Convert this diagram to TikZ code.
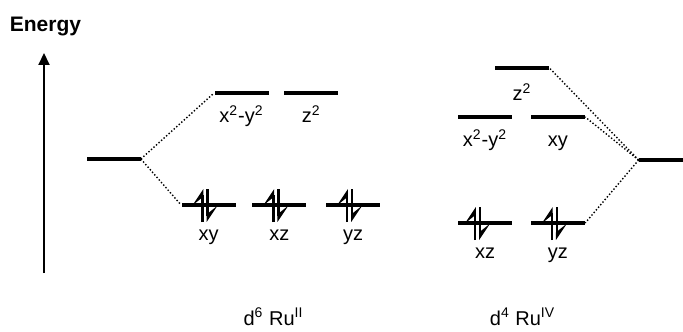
\documentclass[tikz,border=0pt]{standalone}
\usepackage{fontspec}
\setmainfont{Liberation Sans}
\usetikzlibrary{arrows.meta, positioning}

\begin{document}
\begin{tikzpicture}[
        x=0.5pt, y=-0.5pt,
        lvl/.style={fill=black, inner sep=0pt, minimum width=27pt, minimum height=2pt},
        lbl/.style={font=\fontsize{10}{12}\selectfont, inner sep=0pt, anchor=base},
        split/.style={line width=0.7pt, dash pattern=on 0.7pt off 1pt},
        eup/.style={line width=1.2pt, -{Stealth[harpoon, length=7.5pt, width=10pt, inset=4pt]}},
        pics/epair/.style={code={
            \draw[eup] (-6,17) -- (-6,-16);
            \draw[eup] (-1,-16) -- (-1,17);
        }}
    ]
    \useasboundingbox (0,0) rectangle (683,331);

    % energy axis
    \node[font=\fontsize{10.5}{12}\selectfont\bfseries, inner sep=0pt, anchor=base] (energy) at (45.5,31.5) {Energy};
    \coordinate (ebot) at (44,273);
    \coordinate (etop) at (44,53);
    \draw[line width=1pt, -{Triangle[length=6pt, width=5.5pt]}] (ebot) -- (etop);

    % d6 Ru(II)
    \node[lvl] (freeL) at (113.5,159) {};
    \node[lvl] (x2y2L) at (241.5,93) {};
    \node[lvl, right=7.5pt of x2y2L] (z2L) {};
    \node[lvl] (xyL) at (208.5,205) {};
    \node[lvl, right=8pt of xyL] (xzL) {};
    \node[lvl, right=9.5pt of xzL] (yzL) {};

    \node[below=13.5pt of x2y2L, lbl] {x\textsuperscript{2}-y\textsuperscript{2}};
    \node[below=13.5pt of z2L, lbl] {z\textsuperscript{2}};
    \node[below=16.5pt of xyL, lbl] {xy};
    \node[below=16.5pt of xzL, lbl] {xz};
    \node[below=16.5pt of yzL, lbl] {yz};

    \pic at (xyL) {epair};
    \pic at (xzL) {epair};
    \pic at (yzL) {epair};

    \draw[split] (freeL.east) -- (x2y2L.west);
    \draw[split] (freeL.east) -- (xyL.west);

    % d4 Ru(IV)
    \node[lvl, minimum width=22pt] (freeR) at (661,160) {};
    \node[lvl] (z2R) at (522,68) {};
    \node[lvl] (x2y2R) at (485,117) {};
    \node[lvl, right=9pt of x2y2R] (xyR) {};
    \node[lvl] (xzR) at (485,223) {};
    \node[lvl, right=9pt of xzR] (yzR) {};

    \node[below=15pt of z2R, lbl] {z\textsuperscript{2}};
    \node[below=13.5pt of x2y2R, lbl] {x\textsuperscript{2}-y\textsuperscript{2}};
    \node[below=13.5pt of xyR, lbl] {xy};
    \node[below=16.5pt of xzR, lbl] {xz};
    \node[below=16.5pt of yzR, lbl] {yz};

    \pic at ([xshift=-2pt]xzR.center) {epair};
    \pic at (yzR) {epair};

    \draw[split] (freeR.west) -- (z2R.east);
    \draw[split] (freeR.west) -- (xyR.east);
    \draw[split] (freeR.west) -- (yzR.east);

    % configurations
    \node[lbl] (cfgII) at (273.5,325) {d\textsuperscript{6} Ru\textsuperscript{II}};
    \node[lbl] (cfgIV) at (522.5,325) {d\textsuperscript{4} Ru\textsuperscript{IV}};
\end{tikzpicture}
\end{document}
